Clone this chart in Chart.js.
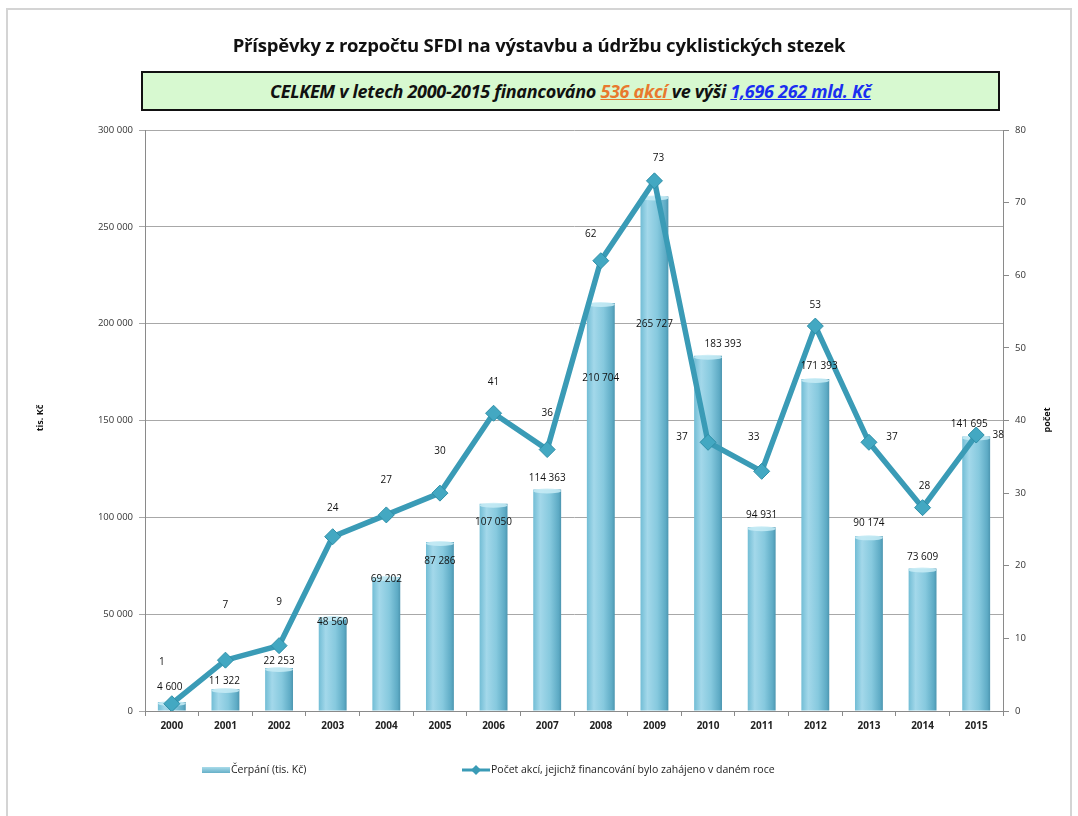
<!DOCTYPE html>
<html>
<head>
<meta charset="utf-8">
<script src="https://cdn.jsdelivr.net/npm/chart.js@4/dist/chart.umd.min.js"></script>
<style>
html,body{margin:0;padding:0;background:#fff;}
#wrap{position:relative;width:1078px;height:816px;overflow:hidden;}
#frame{position:absolute;left:6px;top:8px;width:1066px;height:820px;border:2px solid #d4d4d4;box-sizing:border-box;}
canvas{position:absolute;left:0;top:0;}
#title{position:absolute;left:0;width:1078px;top:32px;text-align:center;font-family:"Open Sans",sans-serif;font-weight:bold;font-size:18.5px;color:#111;letter-spacing:-0.2px;}
#box{position:absolute;left:141px;top:71px;width:859px;height:40px;box-sizing:border-box;border:2px solid #111;background:#d7f9d0;text-align:center;font-family:"Open Sans",sans-serif;font-style:italic;font-weight:bold;font-size:18px;line-height:36px;color:#111;letter-spacing:-0.3px;}
#box .o{color:#e8792e;text-decoration:underline;}
#box .b{color:#1a2ff0;text-decoration:underline;}
</style>
</head>
<body>
<div id="wrap">
<div id="frame"></div>
<canvas id="c" width="1078" height="816"></canvas>
<div id="title">Příspěvky z rozpočtu SFDI na výstavbu a údržbu cyklistických stezek</div>
<div id="box">CELKEM v letech 2000-2015 financováno <span class="o">536 akcí </span>ve výši <span class="b">1,696 262 mld. Kč</span></div>
</div>
<script>
// ---- data ----
const years = ["2000","2001","2002","2003","2004","2005","2006","2007","2008","2009","2010","2011","2012","2013","2014","2015"];
const cerpani = [4600,11322,22253,48560,69202,87286,107050,114363,210704,265727,183393,94931,171393,90174,73609,141695];
const pocet = [1,7,9,24,27,30,41,36,62,73,37,33,53,37,28,38];
const barSeriesName = "Čerpání (tis. Kč)";
const lineSeriesName = "Počet akcí, jejichž financování bylo zahájeno v daném roce";
const leftTicks = [0,50000,100000,150000,200000,250000,300000];
const rightTicks = [0,10,20,30,40,50,60,70,80];

// ---- label placement (style only) ----
const barLblOff = [[-2,-15],[-1,-8],[0,-7],[0,5],[0,2],[0,19],[0,18],[0,-11],[0,75],[0,128],[15,-12],[0,-12],[4,-13],[0,-13],[0,-11],[-7,-12]];
const lineLblOff = [[-10,-42],[0,-55],[0,-43],[0,-29],[0,-35],[0,-42],[0,-31],[0,-36],[-10,-27],[4,-23],[-26,-5],[-8,-34],[0,-21],[23,-5],[2,-21],[22,0]];

function fmt(v){return String(v).replace(/\B(?=(\d{3})+(?!\d))/g,' ');}

const FONT = '"Open Sans", sans-serif';
const LEFT = 145, RIGHT = 1003, TOP = 130, BOTTOM = 711;

function barGradient(ctx){
  const chart = ctx.chart;
  const xs = chart.scales.x;
  if(!xs || ctx.dataIndex === undefined) return '#7cc3da';
  const cx = xs.getPixelForValue(ctx.dataIndex);
  const w = (xs.width/years.length)*0.52;
  if(!isFinite(cx) || !isFinite(w) || w <= 0) return '#7cc3da';
  const g = chart.ctx.createLinearGradient(cx-w/2,0,cx+w/2,0);
  g.addColorStop(0,'#72bdd5');
  g.addColorStop(0.25,'#a3d8ea');
  g.addColorStop(0.6,'#86c9de');
  g.addColorStop(0.9,'#5eabc5');
  g.addColorStop(1,'#4d96b0');
  return g;
}

const overlay = {
  id:'overlay',
  afterDatasetDraw(chart, args){
    if(args.index !== 0) return;
    const c = chart.ctx;
    const bars = chart.getDatasetMeta(0).data;
    bars.forEach(b=>{
      const w = b.width;
      c.save();
      c.fillStyle = 'rgba(200,236,246,0.85)';
      c.beginPath();
      c.ellipse(b.x, b.y+1.5, w/2, 2.5, 0, 0, Math.PI*2);
      c.fill();
      c.restore();
    });
  },
  afterDraw(chart){
    const c = chart.ctx;
    const bars = chart.getDatasetMeta(0).data;
    const pts = chart.getDatasetMeta(1).data;
    c.save();
    c.fillStyle = '#111';
    c.font = '10px ' + FONT;
    c.textAlign = 'center';
    c.textBaseline = 'middle';
    bars.forEach((b,i)=>{
      c.fillText(fmt(cerpani[i]), b.x+barLblOff[i][0], b.y+barLblOff[i][1]);
    });
    pts.forEach((p,i)=>{
      c.fillText(String(pocet[i]), p.x+lineLblOff[i][0], p.y+lineLblOff[i][1]);
    });
    c.font = 'bold 9px ' + FONT;
    c.save(); c.translate(40, 418); c.rotate(-Math.PI/2); c.fillText('tis. Kč',0,0); c.restore();
    c.save(); c.translate(1047, 420); c.rotate(-Math.PI/2); c.fillText('počet',0,0); c.restore();
    c.font = '10.5px ' + FONT;
    c.textAlign = 'left';
    const ly = 770;
    let g = c.createLinearGradient(0,ly-4,0,ly+4);
    g.addColorStop(0,'#b5e3f0'); g.addColorStop(1,'#5aa8c2');
    c.fillStyle = g;
    c.fillRect(202, ly-3, 28, 6);
    c.fillStyle = '#222';
    c.fillText(barSeriesName, 231, ly);
    c.strokeStyle = '#3a9bb6'; c.lineWidth = 3;
    c.beginPath(); c.moveTo(462, ly); c.lineTo(490, ly); c.stroke();
    c.fillStyle = '#3a9bb6';
    c.beginPath(); c.moveTo(476, ly-5); c.lineTo(481, ly); c.lineTo(476, ly+5); c.lineTo(471, ly); c.closePath(); c.fill();
    c.fillStyle = '#222';
    c.fillText(lineSeriesName, 491, ly);
    c.restore();
  }
};

new Chart(document.getElementById('c'), {
  data:{
    labels: years,
    datasets:[
      {
        type:'bar', label: barSeriesName, data: cerpani, yAxisID:'y',
        backgroundColor: barGradient, borderWidth:0,
        barPercentage: 0.52, categoryPercentage: 1.0, order: 2
      },
      {
        type:'line', label: lineSeriesName, data: pocet, yAxisID:'y1',
        borderColor:'#3a9bb6', borderWidth:5.5, pointStyle:'rectRot', pointRadius:8, pointHoverRadius:8,
        pointBackgroundColor:'#43a8c2', pointBorderColor:'#2f8fa8', pointBorderWidth:1,
        tension:0, order: 1
      }
    ]
  },
  options:{
    responsive:false, animation:false,
    layout:{padding:{left:0,right:0,top:TOP,bottom:0}},
    plugins:{legend:{display:false}, tooltip:{enabled:false}, title:{display:false}},
    scales:{
      x:{
        offset:true,
        grid:{display:true, drawOnChartArea:false, drawTicks:true, tickLength:5, offset:true, color:'#8a8a8a'},
        border:{display:true, color:'#8a8a8a', width:1},
        ticks:{color:'#222', font:{family:FONT, size:10, weight:'bold'}, padding:4, maxRotation:0, autoSkip:false},
        afterFit(s){ s.height = 816 - BOTTOM; }
      },
      y:{
        position:'left', min:0, max:300000,
        afterBuildTicks(s){ s.ticks = leftTicks.map(v=>({value:v})); },
        grid:{color:'#a8a8a8', lineWidth:1, drawTicks:true, tickLength:6},
        border:{display:true, color:'#8a8a8a'},
        ticks:{color:'#333', font:{family:FONT, size:9.5}, padding:6, callback:v=>fmt(v)},
        afterFit(s){ s.width = LEFT; }
      },
      y1:{
        position:'right', min:0, max:80,
        afterBuildTicks(s){ s.ticks = rightTicks.map(v=>({value:v})); },
        grid:{drawOnChartArea:false, drawTicks:true, tickLength:6, color:'#8a8a8a'},
        border:{display:true, color:'#8a8a8a'},
        ticks:{color:'#333', font:{family:FONT, size:9.5}, padding:6},
        afterFit(s){ s.width = 1078 - RIGHT; }
      }
    }
  },
  plugins:[overlay]
});
</script>
</body>
</html>
